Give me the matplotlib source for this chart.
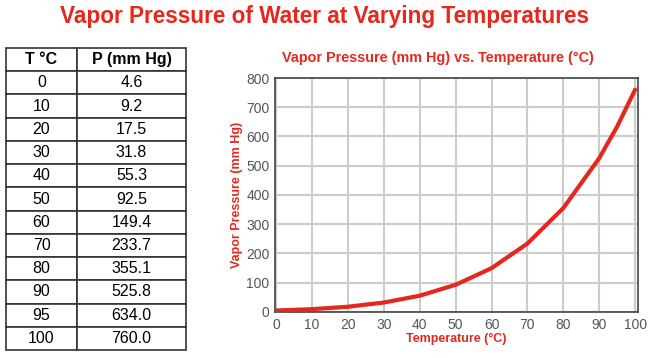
import matplotlib.pyplot as plt

plt.rcParams['font.family'] = ['Liberation Sans', 'DejaVu Sans']

# table / curve data
temps = [0, 10, 20, 30, 40, 50, 60, 70, 80, 90, 95, 100]
pressures = [4.6, 9.2, 17.5, 31.8, 55.3, 92.5, 149.4, 233.7, 355.1, 525.8, 634.0, 760.0]
col_labels = ['T °C', 'P (mm Hg)']
x_ticks = [0, 10, 20, 30, 40, 50, 60, 70, 80, 90, 100]
y_ticks = [0, 100, 200, 300, 400, 500, 600, 700, 800]

RED = '#e5281e'
W, H = 650, 358

fig = plt.figure(figsize=(6.5, 3.58), dpi=100)
fig.text(325 / W, 1 - 17 / H, 'Vapor Pressure of Water at Varying Temperatures',
         ha='center', va='center', color=RED, fontsize=16.3, fontweight='bold')

# table on the left
tax = fig.add_axes([0, 0, 1, 1])
tax.axis('off')
cells = [[str(t), f'{p:.1f}'] for t, p in zip(temps, pressures)]
tbl = tax.table(cellText=cells, colLabels=col_labels, cellLoc='center',
                bbox=[6 / W, 1 - 350 / H, 180 / W, 302 / H],
                colWidths=[71, 109])
tbl.auto_set_font_size(False)
for (r, c), cell in tbl.get_celld().items():
    cell.set_edgecolor('#333333')
    cell.set_linewidth(1.2)
    cell.get_text().set_fontsize(11.5)
    if r == 0:
        cell.get_text().set_fontweight('bold')

# chart on the right
ax = fig.add_axes([275 / W, 1 - 312 / H, 363 / W, 234 / H])
ax.plot(temps, pressures, color=RED, linewidth=3, solid_capstyle='round',
        solid_joinstyle='round', zorder=3)
ax.set_xlim(-0.3, 100.8)
ax.set_ylim(-0.5, 800)
ax.set_xticks(x_ticks)
ax.set_yticks(y_ticks)
ax.grid(True, color='#cccccc', linewidth=1.5)
ax.set_axisbelow(True)
for s in ax.spines.values():
    s.set_color('#444444')
    s.set_linewidth(1.2)
ax.tick_params(length=0, labelsize=10, colors='#555555', pad=4)
fig.text(438 / W, 1 - 58 / H, 'Vapor Pressure (mm Hg) vs. Temperature (°C)',
         ha='center', va='center', color=RED, fontsize=10.4, fontweight='bold')
ax.set_xlabel('Temperature (°C)', color=RED, fontsize=9, fontweight='bold', labelpad=1)
ax.set_ylabel('Vapor Pressure (mm Hg)', color=RED, fontsize=9, fontweight='bold', labelpad=2)

fig.savefig('out.png', dpi=100)
